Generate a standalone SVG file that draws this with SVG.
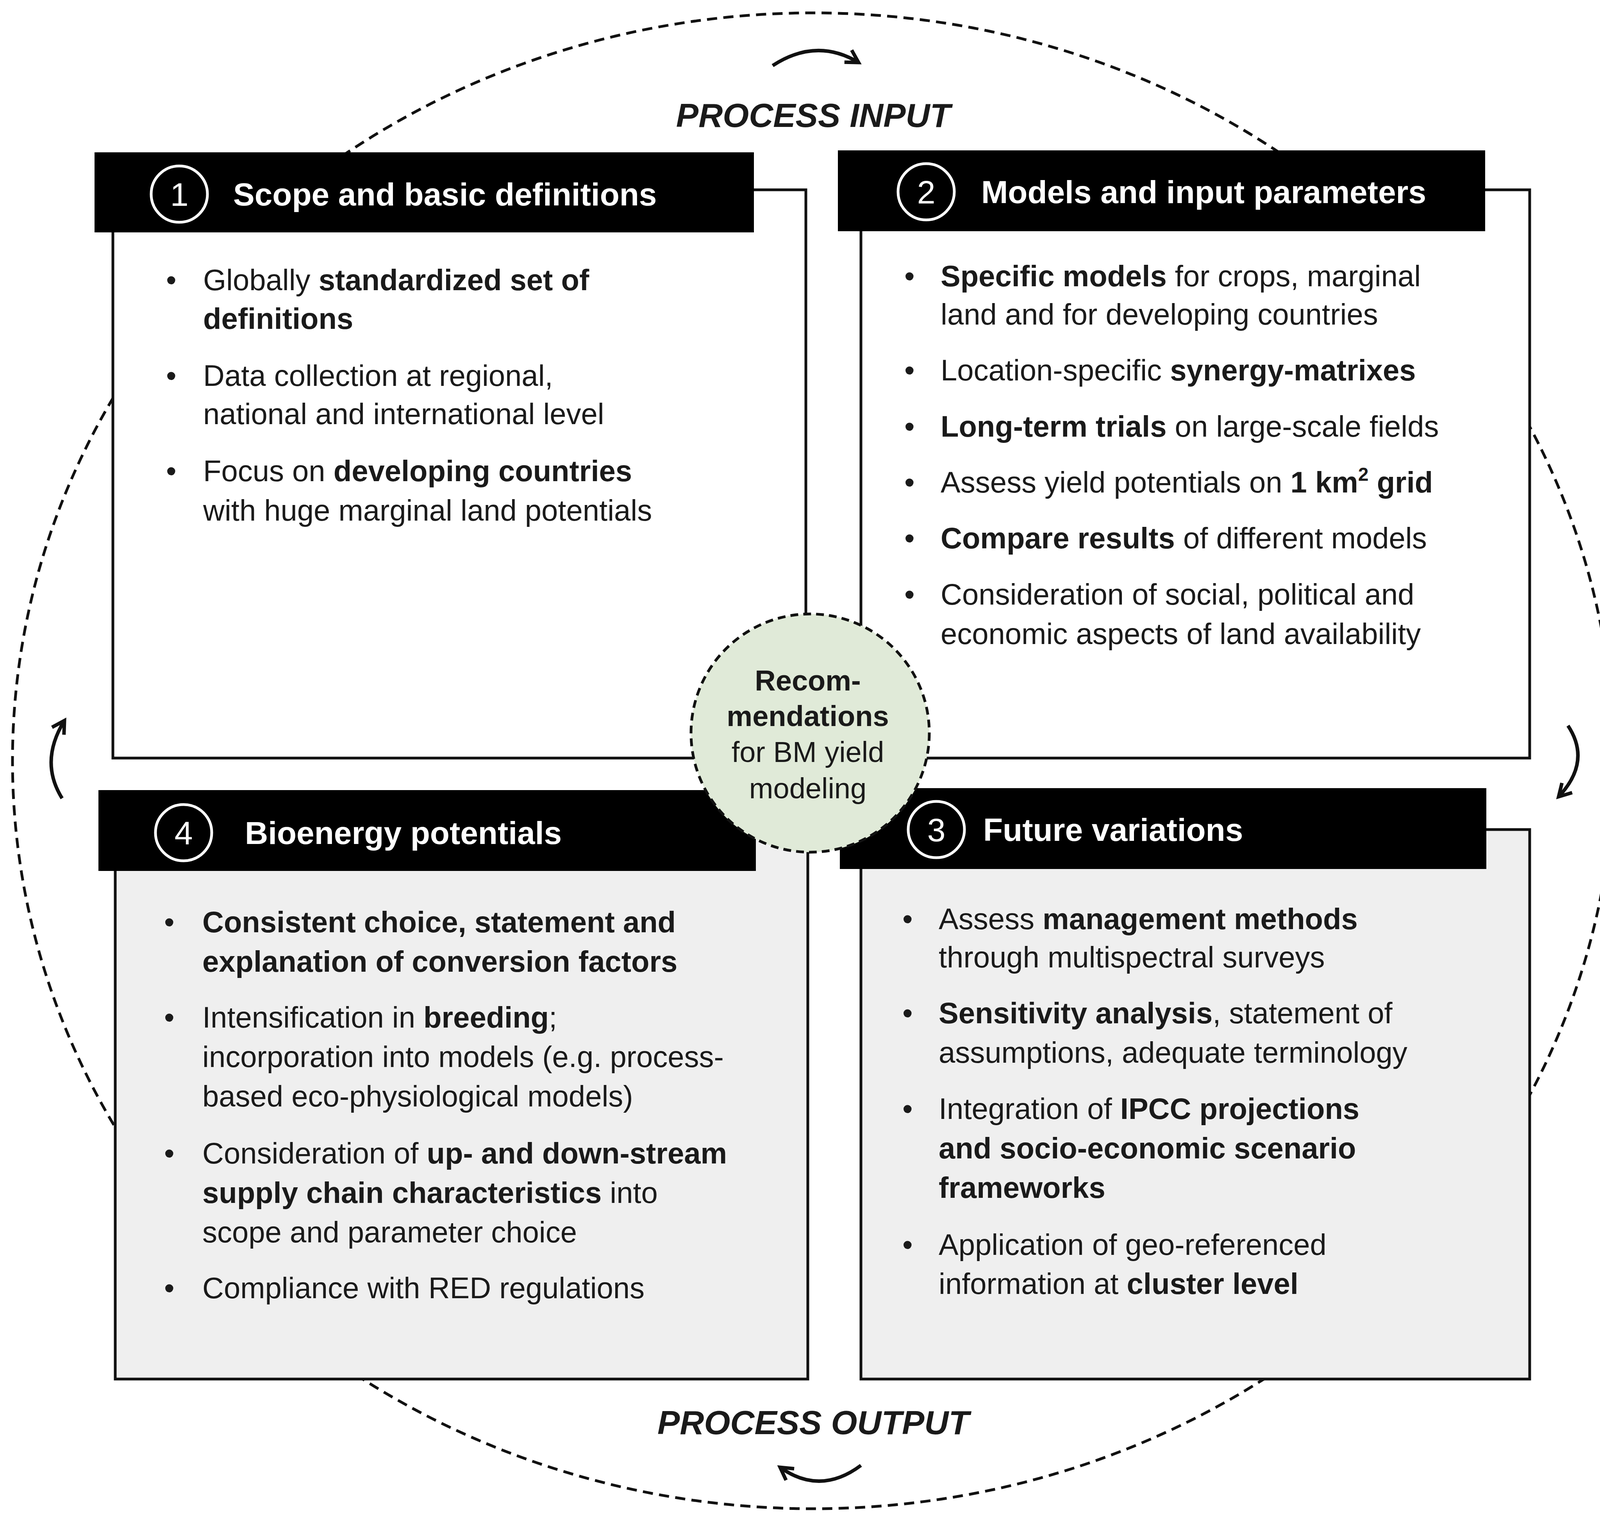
<svg xmlns="http://www.w3.org/2000/svg" width="4163" height="3897" viewBox="0 0 4163 3897">
<style>
text{font-family:"Liberation Sans",Arial,sans-serif;fill:#1a1a1a}
.b{font-size:76px}
.bl{font-weight:bold}
.h{font-size:82px;font-weight:bold;fill:#fff}
.num{font-size:84px;fill:#fff}
.box{fill:#fff;stroke:#111;stroke-width:7}
.g{fill:#efefef}
.hd{fill:#000}
.nc{fill:none;stroke:#fff;stroke-width:7}
.pl{font-size:86px;font-weight:bold;font-style:italic;text-anchor:middle}
.ar{fill:none;stroke:#111;stroke-width:9}
</style>
<defs>
<marker id="ah" viewBox="0 0 10 10" refX="8" refY="5" markerWidth="5" markerHeight="5" orient="auto" markerUnits="strokeWidth">
<path d="M1,1 L8,5 L1,9" fill="none" stroke="#111" stroke-width="2"/>
</marker>
</defs>
<rect width="4163" height="3897" fill="#fff"/>
<ellipse cx="2082" cy="1948" rx="2050" ry="1915" fill="none" stroke="#111" stroke-width="7" stroke-dasharray="26 16"/>
<g id="connectors">
<path class="ar" d="M1978,168 Q2090,95 2198,160" marker-end="url(#ah)"/>
<path class="ar" d="M4014,1858 Q4075,1950 3990,2040" marker-end="url(#ah)"/>
<path class="ar" d="M2204,3752 Q2100,3830 1997,3757" marker-end="url(#ah)"/>
<path class="ar" d="M159,2044 Q100,1950 165,1845" marker-end="url(#ah)"/>
</g>
<text class="pl" x="2082" y="325">PROCESS INPUT</text>
<text class="pl" x="2082" y="3672">PROCESS OUTPUT</text>
<g id="n1">
<rect class="box" x="289" y="486" width="1774" height="1455"/>
<rect class="hd" x="242" y="390" width="1688" height="205"/>
<circle class="nc" cx="459" cy="497" r="72"/>
<text class="num" x="459" y="527" text-anchor="middle">1</text>
<text class="h" x="597" y="526">Scope and basic definitions</text>
<g class="b">
<text x="425" y="743">•</text><text x="520" y="743">Globally <tspan class="bl">standardized set of</tspan></text>
<text x="520" y="842" class="bl">definitions</text>
<text x="425" y="988">•</text><text x="520" y="988">Data collection at regional,</text>
<text x="520" y="1086">national and international level</text>
<text x="425" y="1232">•</text><text x="520" y="1232">Focus on <tspan class="bl">developing countries</tspan></text>
<text x="520" y="1333">with huge marginal land potentials</text>
</g>
</g>
<g id="n2">
<rect class="box" x="2204" y="486" width="1712" height="1455"/>
<rect class="hd" x="2145" y="385" width="1657" height="207"/>
<circle class="nc" cx="2371" cy="491" r="72"/>
<text class="num" x="2371" y="521" text-anchor="middle">2</text>
<text class="h" x="2512" y="520">Models and input parameters</text>
<g class="b">
<text x="2315" y="733">•</text><text x="2408" y="733"><tspan class="bl">Specific models</tspan> for crops, marginal</text>
<text x="2408" y="831">land and for developing countries</text>
<text x="2315" y="974">•</text><text x="2408" y="974">Location-specific <tspan class="bl">synergy-matrixes</tspan></text>
<text x="2315" y="1118">•</text><text x="2408" y="1118"><tspan class="bl">Long-term trials</tspan> on large-scale fields</text>
<text x="2315" y="1261">•</text><text x="2408" y="1261">Assess yield potentials on <tspan class="bl">1 km</tspan><tspan class="bl" font-size="48" dy="-30">2</tspan><tspan class="bl" dy="30"> grid</tspan></text>
<text x="2315" y="1404">•</text><text x="2408" y="1404"><tspan class="bl">Compare results</tspan> of different models</text>
<text x="2315" y="1548">•</text><text x="2408" y="1548">Consideration of social, political and</text>
<text x="2408" y="1649">economic aspects of land availability</text>
</g>
</g>
<g id="n4">
<rect class="box g" x="295" y="2124" width="1773" height="1407"/>
<rect class="hd" x="252" y="2023" width="1683" height="207"/>
<circle class="nc" cx="470" cy="2132" r="72"/>
<text class="num" x="470" y="2162" text-anchor="middle">4</text>
<text class="h" x="627" y="2161">Bioenergy potentials</text>
<g class="b">
<text x="420" y="2387">•</text><text x="518" y="2387" class="bl">Consistent choice, statement and</text>
<text x="518" y="2488" class="bl">explanation of conversion factors</text>
<text x="420" y="2631">•</text><text x="518" y="2631">Intensification in <tspan class="bl">breeding</tspan>;</text>
<text x="518" y="2732">incorporation into models (e.g. process-</text>
<text x="518" y="2833">based eco-physiological models)</text>
<text x="420" y="2979">•</text><text x="518" y="2979">Consideration of <tspan class="bl">up- and down-stream</tspan></text>
<text x="518" y="3080"><tspan class="bl">supply chain characteristics</tspan> into</text>
<text x="518" y="3181">scope and parameter choice</text>
<text x="420" y="3324">•</text><text x="518" y="3324">Compliance with RED regulations</text>
</g>
</g>
<g id="n3">
<rect class="box g" x="2204" y="2124" width="1712" height="1407"/>
<rect class="hd" x="2150" y="2018" width="1655" height="207"/>
<circle class="nc" cx="2397" cy="2124" r="72"/>
<text class="num" x="2397" y="2154" text-anchor="middle">3</text>
<text class="h" x="2517" y="2153">Future variations</text>
<g class="b">
<text x="2310" y="2379">•</text><text x="2403" y="2379">Assess <tspan class="bl">management methods</tspan></text>
<text x="2403" y="2477">through multispectral surveys</text>
<text x="2310" y="2620">•</text><text x="2403" y="2620"><tspan class="bl">Sensitivity analysis</tspan>, statement of</text>
<text x="2403" y="2721">assumptions, adequate terminology</text>
<text x="2310" y="2865">•</text><text x="2403" y="2865">Integration of <tspan class="bl">IPCC projections</tspan></text>
<text x="2403" y="2966" class="bl">and socio-economic scenario</text>
<text x="2403" y="3067" class="bl">frameworks</text>
<text x="2310" y="3213">•</text><text x="2403" y="3213">Application of geo-referenced</text>
<text x="2403" y="3313">information at <tspan class="bl">cluster level</tspan></text>
</g>
</g>
<g id="center">
<circle cx="2074" cy="1877" r="305" fill="#e0ead8" stroke="#111" stroke-width="7" stroke-dasharray="20 13"/>
<g font-size="74" text-anchor="middle">
<text x="2068" y="1768" class="bl">Recom-</text>
<text x="2068" y="1859" class="bl">mendations</text>
<text x="2068" y="1951">for BM yield</text>
<text x="2068" y="2044">modeling</text>
</g>
</g>
</svg>
